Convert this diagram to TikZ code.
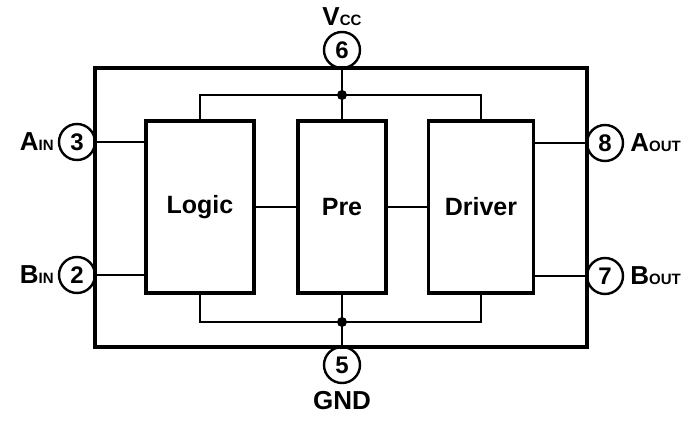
\documentclass[tikz,border=0pt]{standalone}
\usepackage{fontspec}
\setmainfont{Liberation Sans}
\usetikzlibrary{positioning}
\newcommand{\pinname}[2]{#1{\fontsize{15}{15}\selectfont #2}}

\begin{document}
\begin{tikzpicture}[x=1pt,y=-1pt]
    \tikzset{
      block/.style={draw,line width=3.4pt,inner sep=0pt,font=\fontsize{25}{25}\selectfont\bfseries},
      pin/.style={circle,draw,line width=2.4pt,minimum size=36pt,inner sep=0pt,font=\fontsize{24}{24}\selectfont\bfseries},
      pinlabel/.style={inner sep=0pt,font=\fontsize{26}{26}\selectfont\bfseries},
      frame/.style={line width=3.2pt},
      wire/.style={line width=2.8pt},
      dot/.style={circle,fill,inner sep=0pt,minimum size=10pt}
    }
    \useasboundingbox (0,0) rectangle (697,423);
    % outer frame
    \draw[frame] (95,68) rectangle (587,347);
    % blocks
    \node[block,minimum width=108pt,minimum height=172pt] (logic) at (200,207) {Logic};
    \node[block,minimum width=88pt,minimum height=172pt] (pre) at (342,207) {Pre};
    \node[block,minimum width=105pt,minimum height=172pt] (driver) at (481,207) {Driver};
    % pins
    \node[pin] (pin6) at (342,50) {6};
    \node[pin] (pin5) at (342,365) {5};
    \node[pin] (pin3) at (77,142) {3};
    \node[pin] (pin2) at (77,275) {2};
    \node[pin] (pin8) at (605,143) {8};
    \node[pin] (pin7) at (605,276) {7};
    \node[pinlabel,above=5pt of pin6] (vcc) {\pinname{V}{CC}};
    \node[pinlabel,below=7pt of pin5] (gnd) {GND};
    \node[pinlabel,left=4pt of pin3] (ain) {\pinname{A}{IN}};
    \node[pinlabel,left=4pt of pin2] (bin) {\pinname{B}{IN}};
    \node[pinlabel,right=6pt of pin8] (aout) {\pinname{A}{OUT}};
    \node[pinlabel,right=6pt of pin7] (bout) {\pinname{B}{OUT}};
    % supply rails
    \node[dot] (jtop) at (342,95) {};
    \node[dot] (jbot) at (342,322) {};
    \draw[wire] (logic.north) -- (logic.north |- jtop) -- (driver.north |- jtop) -- (driver.north);
    \draw[wire] (logic.south) -- (logic.south |- jbot) -- (driver.south |- jbot) -- (driver.south);
    \draw[wire] (pin6) -- (pre.north);
    \draw[wire] (pin5) -- (pre.south);
    % signal path
    \draw[wire] (pin3) -- (logic.west |- pin3);
    \draw[wire] (pin2) -- (logic.west |- pin2);
    \draw[wire] (logic.east) -- (pre.west);
    \draw[wire] (pre.east) -- (driver.west);
    \draw[wire] (driver.east |- pin8) -- (pin8);
    \draw[wire] (driver.east |- pin7) -- (pin7);
\end{tikzpicture}
\end{document}
